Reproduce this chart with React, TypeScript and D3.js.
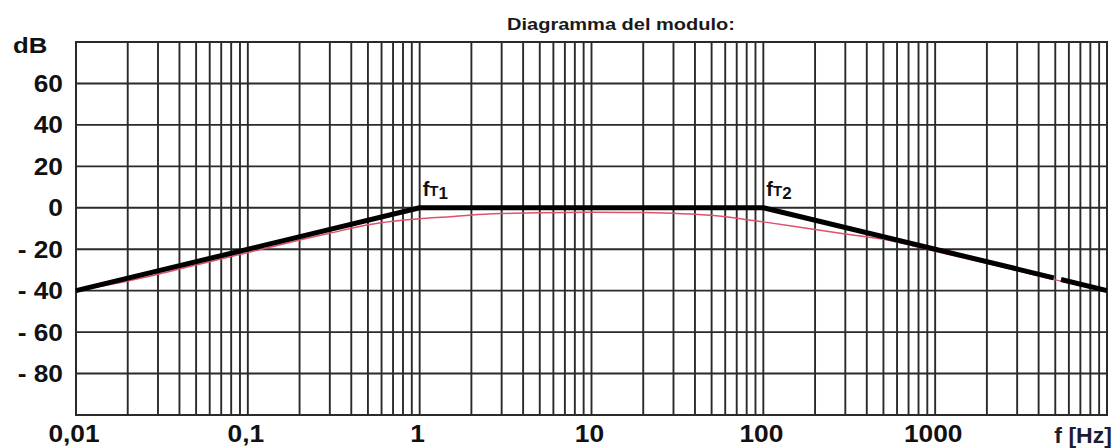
import React from "react";
import * as d3 from "d3";

const W = 1120;
const H = 448;

// axis ticks
const yTickValues = [60, 40, 20, 0, -20, -40, -60, -80];
const yTickLabels = ["60", "40", "20", "0", "- 20", "- 40", "- 60", "- 80"];
const xLabelValues = [0.01, 0.1, 1, 10, 100, 1000];
const xLabelTexts = ["0,01", "0,1", "1", "10", "100", "1000"];

// asymptotic (Bode) diagram, black thick, drawn in two pieces (gap near 5 kHz)
const asymFreqA = [0.01, 1, 100, 4900];
const asymDbA = [-40, 0, 0, -33.8];
const asymFreqB = [5400, 10000];
const asymDbB = [-34.6, -40];

// real response, thin red
const realFreq = [0.01, 0.02, 0.05, 0.1, 0.2, 0.3, 0.5, 0.7, 1, 1.5, 2, 3, 5, 10, 20, 30, 50, 70, 100, 200, 300, 500, 1000, 2000, 3000, 5000, 10000];
const realDb = [-40, -35.3, -27.6, -21.6, -15.6, -12.3, -8.2, -6.5, -5.3, -4.3, -3.5, -2.8, -2.4, -2.2, -2.3, -2.7, -3.6, -5, -6.8, -10.5, -12.6, -15.2, -21, -26.8, -30.3, -34.8, -40];

const x = d3.scaleLog().domain([0.01, 10000]).range([76, 1107]);
const y = d3.scaleLinear().domain([-100, 80]).range([415, 42]);

const lineGen = d3
  .line<[number, number]>()
  .x((d) => x(d[0]))
  .y((d) => y(d[1]));

const smoothGen = d3
  .line<[number, number]>()
  .x((d) => x(d[0]))
  .y((d) => y(d[1]))
  .curve(d3.curveMonotoneX);

const zip = (a: number[], b: number[]): [number, number][] => a.map((v, i) => [v, b[i]]);

const FONT = "'Liberation Sans', Arial, Helvetica, sans-serif";
const GRID = "#2a2a2a";

export default function App() {
  const vTicks = x.ticks();
  const [x0, x1] = x.range();
  const [yb, yt] = y.range();
  return (
    <svg
      width={W}
      height={H}
      style={{ position: "absolute", left: 0, top: 0, background: "#fff" }}
      fontFamily={FONT}
    >
      <rect x={0} y={0} width={W} height={H} fill="#fff" />
      {/* vertical grid */}
      {vTicks.map((t, i) => (
        <line key={"v" + i} x1={x(t)} x2={x(t)} y1={yt} y2={yb} stroke={GRID} strokeWidth={1.9} />
      ))}
      {/* horizontal grid */}
      {yTickValues.map((t, i) => (
        <line key={"h" + i} x1={x0} x2={x1} y1={y(t)} y2={y(t)} stroke={GRID} strokeWidth={1.9} />
      ))}
      {/* border */}
      <rect x={x0} y={yt} width={x1 - x0} height={yb - yt} fill="none" stroke={GRID} strokeWidth={2} />

      {/* real response */}
      <path d={smoothGen(zip(realFreq, realDb)) || ""} fill="none" stroke="#e0506a" strokeWidth={1.5} />
      {/* asymptotes */}
      <path d={lineGen(zip(asymFreqA, asymDbA)) || ""} fill="none" stroke="#000" strokeWidth={5} strokeLinejoin="round" />
      <path d={lineGen(zip(asymFreqB, asymDbB)) || ""} fill="none" stroke="#000" strokeWidth={5} />

      {/* y labels */}
      <g transform="translate(13,53) scale(1.12,1)">
        <text x={0} y={0} fontSize={23} fontWeight="bold" fill="#111">dB</text>
      </g>
      {yTickValues.map((t, i) => (
        <g key={"yl" + i} transform={`translate(63,${y(t) + 8.5}) scale(1.12,1)`}>
          <text x={0} y={0} fontSize={23.5} fontWeight="bold" fill="#111" textAnchor="end">
            {yTickLabels[i]}
          </text>
        </g>
      ))}
      {/* x labels */}
      {xLabelValues.map((v, i) => (
        <g key={"xl" + i} transform={`translate(${x(v) - 2},442) scale(1.12,1)`}>
          <text x={0} y={0} fontSize={23.5} fontWeight="bold" fill="#111" textAnchor="middle">
            {xLabelTexts[i]}
          </text>
        </g>
      ))}
      <g transform="translate(1112,443) scale(1.05,1)">
        <text x={0} y={0} fontSize={22} fontWeight="bold" fill="#1c1c34" textAnchor="end">
          f [Hz]
        </text>
      </g>

      {/* title */}
      <text
        x={507}
        y={30}
        fontSize={17}
        fontWeight="bold"
        fill="#1a1a1a"
        textLength={228}
        lengthAdjust="spacingAndGlyphs"
      >
        Diagramma del modulo:
      </text>

      {/* corner labels */}
      {[
        { f: 1, sub: "1" },
        { f: 100, sub: "2" },
      ].map((c, i) => (
        <text key={"ft" + i} x={x(c.f) + 3} y={196} fontWeight="bold" fill="#111" fontSize={20}>
          f
          <tspan fontSize={15}>T</tspan>
          <tspan fontSize={17} dy={3}>{c.sub}</tspan>
        </text>
      ))}
    </svg>
  );
}
